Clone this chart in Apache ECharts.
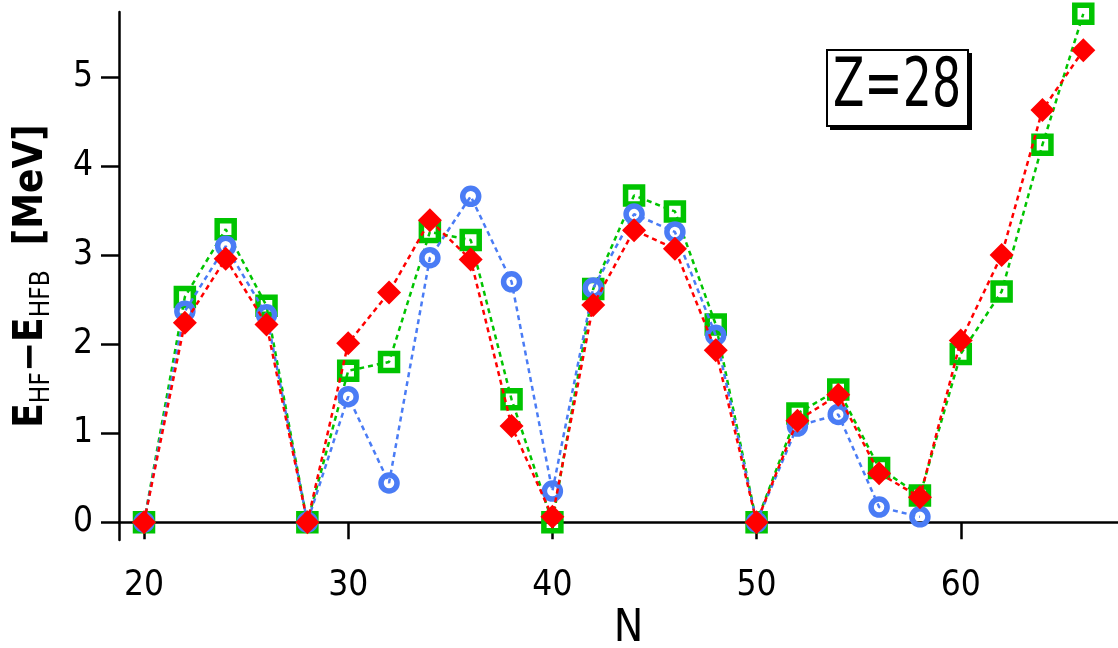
<!DOCTYPE html>
<html>
<head>
<meta charset="utf-8">
<script src="https://cdn.jsdelivr.net/npm/echarts@6/dist/echarts.min.js"></script>
<style>
html,body{margin:0;padding:0;background:#fff;}
#c{width:1118px;height:648px;}
</style>
</head>
<body>
<div id="c"></div>
<script>
const neutronN = [20,22,24,26,28,30,32,34,36,38,40,42,44,46,48,50,52,54,56,58,60,62,64,66];
const greenSquare = [0,2.53,3.29,2.43,0,1.70,1.80,3.26,3.17,1.38,0,2.62,3.67,3.49,2.22,0,1.22,1.49,0.61,0.30,1.89,2.59,4.24,5.71];
const blueCircle = [0,2.37,3.10,2.33,0,1.41,0.44,2.97,3.66,2.70,0.35,2.63,3.46,3.26,2.10,0,1.08,1.21,0.17,0.06];
const redDiamond = [0,2.24,2.96,2.22,0,2.01,2.58,3.39,2.95,1.08,0.06,2.44,3.28,3.07,1.93,0,1.14,1.43,0.55,0.28,2.04,3.00,4.63,5.30];
const xTicks = [20,30,40,50,60];
const yTicks = [0,1,2,3,4,5];

const FONT = '"DejaVu Sans Condensed", "Liberation Sans Narrow", "Liberation Sans", sans-serif';
const pairs = (vals) => vals.map((v, i) => [neutronN[i], v]);

const chart = echarts.init(document.getElementById('c'));
const dash = [5, 4];
chart.setOption({
  animation: false,
  backgroundColor: '#fff',
  grid: {left: 119, right: 0, top: 12, bottom: 108, containLabel: false, outerBoundsMode: 'none'},
  xAxis: {
    type: 'value', min: 18.775, max: 67.7,
    splitLine: {show: false},
    axisLine: {lineStyle: {color: '#000', width: 2.5}},
    axisTick: {show: true, length: 17, lineStyle: {color: '#000', width: 2.5}, customValues: xTicks},
    axisLabel: {customValues: xTicks, fontSize: 35, color: '#000', fontFamily: FONT, margin: 28},
    name: 'N', nameLocation: 'middle', nameGap: 68,
    nameTextStyle: {fontSize: 44, color: '#000', fontFamily: FONT, padding: [0, 0, 0, 20]}
  },
  yAxis: {
    type: 'value', min: -0.2, max: 5.73,
    splitLine: {show: false},
    axisLine: {lineStyle: {color: '#000', width: 2.5}},
    axisTick: {show: true, length: 18, lineStyle: {color: '#000', width: 2.5}, customValues: yTicks},
    axisLabel: {customValues: yTicks, fontSize: 35, color: '#000', fontFamily: FONT, margin: 26},
    name: '{m|E}{s|HF}{m|−E}{s|HFB}{m|  [MeV]}',
    nameLocation: 'middle', nameGap: 64, nameRotate: 90,
    nameTextStyle: {
      color: '#000', fontFamily: FONT,
      rich: {
        m: {fontSize: 40, lineHeight: 46, fontWeight: 'bold', color: '#000', fontFamily: FONT},
        s: {fontSize: 26, lineHeight: 20, verticalAlign: 'bottom', color: '#000', fontFamily: FONT}
      }
    }
  },
  series: [
    {
      type: 'line', data: pairs(greenSquare), clip: false,
      symbol: 'rect', symbolSize: 17,
      lineStyle: {color: '#00c400', width: 2.5, type: dash},
      itemStyle: {color: 'rgba(0,0,0,0)', borderColor: '#00c400', borderWidth: 5.5},
      z: 2
    },
    {
      type: 'line', data: pairs(blueCircle), clip: false,
      symbol: 'circle', symbolSize: 16,
      lineStyle: {color: '#4a7cf5', width: 2.5, type: dash},
      itemStyle: {color: 'rgba(0,0,0,0)', borderColor: '#4a7cf5', borderWidth: 5.5},
      z: 3
    },
    {
      type: 'line', data: pairs(redDiamond), clip: false,
      symbol: 'diamond', symbolSize: 24,
      lineStyle: {color: '#ff0000', width: 2.5, type: dash},
      itemStyle: {color: '#ff0000', borderWidth: 0},
      z: 4
    }
  ],
  graphic: [
    {type: 'rect', shape: {x: 830, y: 53, width: 142, height: 77}, style: {fill: '#000'}, z: 10},
    {type: 'rect', shape: {x: 827, y: 50, width: 141, height: 76}, style: {fill: '#fff', stroke: '#000', lineWidth: 2}, z: 11},
    {type: 'text', x: 897, y: 89, scaleX: 0.76, style: {text: 'Z=28', font: '67px ' + FONT, fill: '#000', align: 'center', verticalAlign: 'middle'}, z: 12}
  ]
});
</script>
</body>
</html>
